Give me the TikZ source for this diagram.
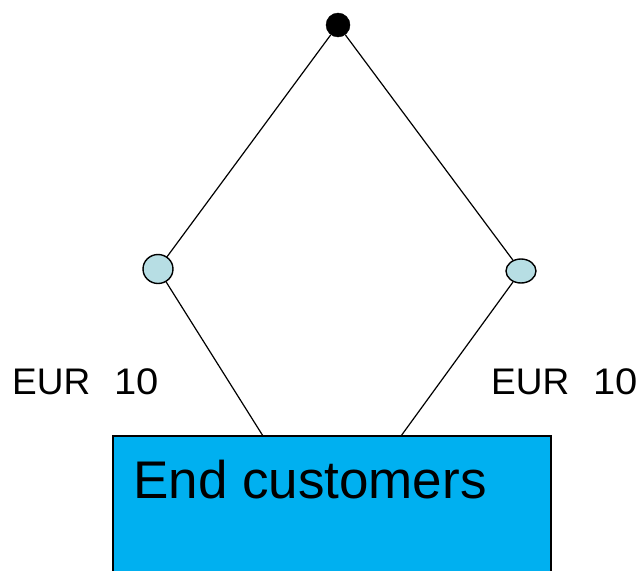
\documentclass[tikz,border=0pt]{standalone}
\usepackage{fontspec}
\usepackage{graphicx}
\usetikzlibrary{shapes.geometric}
\setmainfont{Liberation Sans}
\definecolor{boxblue}{RGB}{0,176,240}
\definecolor{nodeblue}{RGB}{183,222,228}
\newcommand{\amount}{EUR\hspace{0.64em}\scalebox{1.08}[1]{10}}
\begin{document}
\begin{tikzpicture}[x=1pt,y=-1pt,
  link/.style={line width=1.2pt,draw=black},
  root/.style={circle,fill=black,draw=black,minimum size=24pt,inner sep=0pt},
  hub/.style={ellipse,fill=nodeblue,draw=black,line width=1.4pt,inner sep=0pt},
  customers/.style={fill=boxblue,draw=black,line width=1.2pt},
  label/.style={font=\fontsize{37}{44}\selectfont,inner sep=0pt,anchor=base west}]
  \useasboundingbox (0,0) rectangle (644,570);
  \clip (0,0) rectangle (644,570);
  % hub and spoke lines
  \node[root] (top) at (338,25) {};
  \node[hub,minimum width=30pt,minimum height=29pt] (left) at (158,269) {};
  \node[hub,minimum width=30pt,minimum height=24pt] (right) at (521,271) {};
  \coordinate (lefttouch) at (263,436);
  \coordinate (righttouch) at (401,436);
  \draw[link] (top) -- (left);
  \draw[link] (top) -- (right);
  \draw[link] (left) -- (lefttouch);
  \draw[link] (right) -- (righttouch);
  % customer box
  \draw[customers] (113,436) rectangle (551,600);
  \node[inner sep=0pt,anchor=base west,font=\fontsize{53}{60}\selectfont] (cust) at (133,498) {End customers};
  % amount labels
  \node[label] (eurl) at (12,394) {\amount};
  \node[label] (eurr) at (491,394) {\amount};
\end{tikzpicture}
\end{document}
